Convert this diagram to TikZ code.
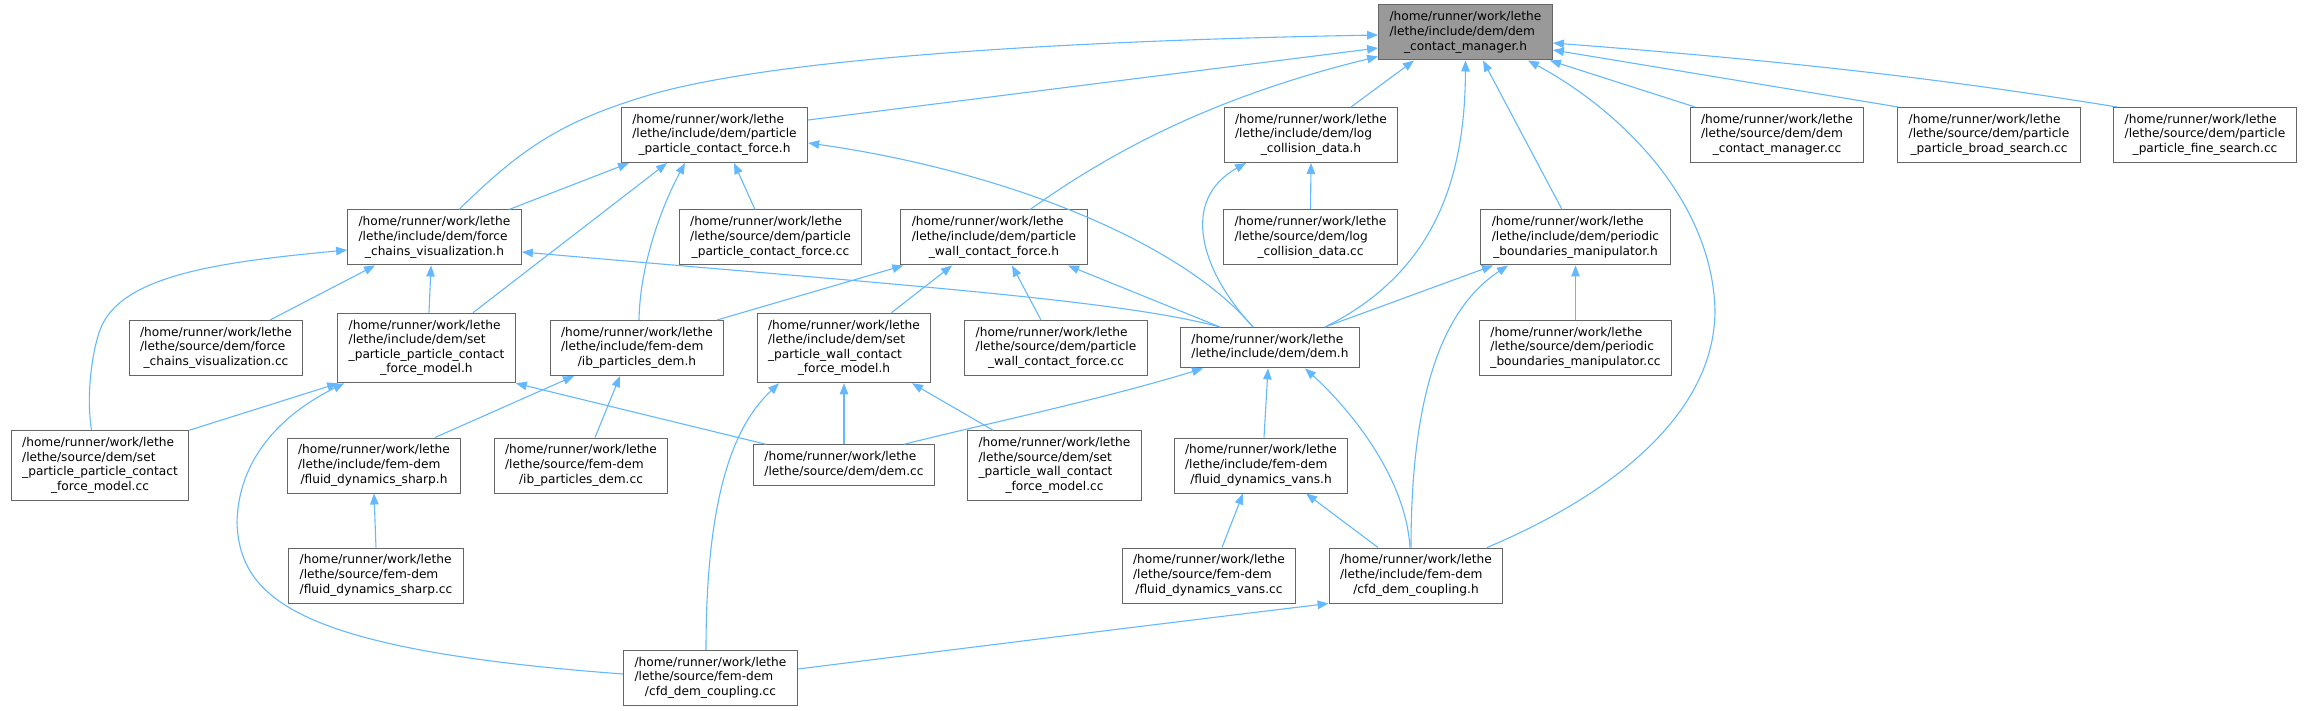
\documentclass[tikz,border=0pt]{standalone}
\usepackage{fontspec}
\setmainfont{DejaVu Sans}
\usetikzlibrary{arrows.meta,calc}
\definecolor{edgec}{HTML}{63B8FF}
\definecolor{nodeb}{HTML}{666666}
\definecolor{rootf}{HTML}{999999}
\newcommand\dlab[2]{\begin{tabular}{@{}l@{}}#1\\\multicolumn{1}{@{}c@{}}{#2}\end{tabular}}
\begin{document}
\begin{tikzpicture}[x=1pt,y=-1pt,
  box/.style={draw=nodeb, fill=white, line width=1pt, inner xsep=11pt, inner ysep=5.6pt,
    font=\fontsize{12.17}{14.6}\selectfont, text=black},
  rootbox/.style={box, fill=rootf},
  dep/.style={draw=edgec, line width=1.1pt, {Triangle[length=11pt,width=8.5pt]}-}]
\path[use as bounding box] (0,0) rectangle (2307,711);
% nodes
\node[rootbox] (root) at (1465.5,32.5) {\dlab{/home/runner/work/lethe\\/lethe/include/dem/dem}{\_contact\_manager.h}};
\node[box] (ppcfh) at (714.5,135) {\dlab{/home/runner/work/lethe\\/lethe/include/dem/particle}{\_particle\_contact\_force.h}};
\node[box] (logh) at (1311,135) {\dlab{/home/runner/work/lethe\\/lethe/include/dem/log}{\_collision\_data.h}};
\node[box] (dcmcc) at (1777,135) {\dlab{/home/runner/work/lethe\\/lethe/source/dem/dem}{\_contact\_manager.cc}};
\node[box] (broadcc) at (1989,135) {\dlab{/home/runner/work/lethe\\/lethe/source/dem/particle}{\_particle\_broad\_search.cc}};
\node[box] (finecc) at (2205,135) {\dlab{/home/runner/work/lethe\\/lethe/source/dem/particle}{\_particle\_fine\_search.cc}};
\node[box] (fch) at (434.5,237.5) {\dlab{/home/runner/work/lethe\\/lethe/include/dem/force}{\_chains\_visualization.h}};
\node[box] (ppcfcc) at (770.5,237.5) {\dlab{/home/runner/work/lethe\\/lethe/source/dem/particle}{\_particle\_contact\_force.cc}};
\node[box] (pwcfh) at (994,237.5) {\dlab{/home/runner/work/lethe\\/lethe/include/dem/particle}{\_wall\_contact\_force.h}};
\node[box] (logcc) at (1310.5,237.5) {\dlab{/home/runner/work/lethe\\/lethe/source/dem/log}{\_collision\_data.cc}};
\node[box] (perh) at (1575.5,237.5) {\dlab{/home/runner/work/lethe\\/lethe/include/dem/periodic}{\_boundaries\_manipulator.h}};
\node[box] (fccc) at (216,348) {\dlab{/home/runner/work/lethe\\/lethe/source/dem/force}{\_chains\_visualization.cc}};
\node[box] (spph) at (426.5,348) {\dlab{/home/runner/work/lethe\\/lethe/include/dem/set\\\_particle\_particle\_contact}{\_force\_model.h}};
\node[box] (ibh) at (637,348) {\dlab{/home/runner/work/lethe\\/lethe/include/fem-dem}{/ib\_particles\_dem.h}};
\node[box] (spwh) at (844,348) {\dlab{/home/runner/work/lethe\\/lethe/include/dem/set\\\_particle\_wall\_contact}{\_force\_model.h}};
\node[box] (pwcfcc) at (1056,348) {\dlab{/home/runner/work/lethe\\/lethe/source/dem/particle}{\_wall\_contact\_force.cc}};
\node[box] (demh) at (1270,347.7) {\dlab{/home/runner/work/lethe}{/lethe/include/dem/dem.h}};
\node[box] (percc) at (1575.5,348) {\dlab{/home/runner/work/lethe\\/lethe/source/dem/periodic}{\_boundaries\_manipulator.cc}};
\node[box] (sppcc) at (100,465.5) {\dlab{/home/runner/work/lethe\\/lethe/source/dem/set\\\_particle\_particle\_contact}{\_force\_model.cc}};
\node[box] (sharph) at (374,465.5) {\dlab{/home/runner/work/lethe\\/lethe/include/fem-dem}{/fluid\_dynamics\_sharp.h}};
\node[box] (ibcc) at (581,465.5) {\dlab{/home/runner/work/lethe\\/lethe/source/fem-dem}{/ib\_particles\_dem.cc}};
\node[box] (demcc) at (844,465) {\dlab{/home/runner/work/lethe}{/lethe/source/dem/dem.cc}};
\node[box] (spwcc) at (1054.5,465.5) {\dlab{/home/runner/work/lethe\\/lethe/source/dem/set\\\_particle\_wall\_contact}{\_force\_model.cc}};
\node[box] (vansh) at (1261,465.5) {\dlab{/home/runner/work/lethe\\/lethe/include/fem-dem}{/fluid\_dynamics\_vans.h}};
\node[box] (sharpcc) at (376,575.5) {\dlab{/home/runner/work/lethe\\/lethe/source/fem-dem}{/fluid\_dynamics\_sharp.cc}};
\node[box] (vanscc) at (1209,575.5) {\dlab{/home/runner/work/lethe\\/lethe/source/fem-dem}{/fluid\_dynamics\_vans.cc}};
\node[box] (cfdh) at (1416,575.5) {\dlab{/home/runner/work/lethe\\/lethe/include/fem-dem}{/cfd\_dem\_coupling.h}};
\node[box] (cfdcc) at (710.5,678) {\dlab{/home/runner/work/lethe\\/lethe/source/fem-dem}{/cfd\_dem\_coupling.cc}};
% edges into root
\draw[dep] ($(root.west)+(0,2.5)$) .. controls (1100,40) and (800,55) .. (660,92) .. controls (560,120) and (520,150) .. ($(fch.north)+(24.5,0)$);
\draw[dep] ($(root.west)+(0,15.5)$) -- ($(ppcfh.east)+(0,-15)$);
\draw[dep] ($(root.west)+(0,24)$) .. controls (1200,100) and (1100,160) .. ($(pwcfh.north)+(36,0)$);
\draw[dep] ($(root.south)+(-51.5,0)$) -- ($(logh.north)+(40,0)$);
\draw[dep] (root.south) .. controls (1465,170) and (1440,270) .. ($(demh.north)+(55,0)$);
\draw[dep] ($(root.south)+(17.5,0)$) -- ($(perh.north)+(-13.5,0)$);
\draw[dep] ($(root.south)+(62.5,0)$) .. controls (1620,110) and (1712,200) .. (1715,310) .. controls (1715,420) and (1600,500) .. ($(cfdh.north)+(71,0)$);
\draw[dep] ($(root.south east)+(-3,0)$) -- ($(dcmcc.north)+(-82,0)$);
\draw[dep] ($(root.east)+(0,17.5)$) -- ($(broadcc.north west)+(1,0)$);
\draw[dep] ($(root.east)+(0,10.5)$) .. controls (1800,62) and (1950,80) .. ($(finecc.north west)+(4,0)$);
% particle_particle_contact_force.h
\draw[dep] ($(ppcfh.south)+(-85.5,0)$) -- ($(fch.north)+(74.5,0)$);
\draw[dep] ($(ppcfh.south)+(-47.5,0)$) -- ($(spph.north)+(46.5,0)$);
\draw[dep] ($(ppcfh.south)+(-29.5,0)$) .. controls (665,200) and (640,260) .. ($(ibh.north)+(2,0)$);
\draw[dep] ($(ppcfh.south)+(19.5,0)$) -- ($(ppcfcc.north)+(-15.5,0)$);
\draw[dep] ($(ppcfh.east)+(0,8)$) .. controls (1000,170) and (1180,240) .. ($(demh.north)+(-17,0)$);
% log_collision_data.h
\draw[dep] (logh.south) -- (logcc.north);
\draw[dep] ($(logh.south)+(-65,0)$) .. controls (1180,200) and (1200,270) .. ($(demh.north)+(-17,0)$);
% force_chains_visualization.h
\draw[dep] ($(fch.west)+(0,12.5)$) .. controls (220,262) and (120,275) .. (100,330) .. controls (92,352) and (86,395) .. ($(sppcc.north)+(-8.5,0)$);
\draw[dep] ($(fch.south)+(-59.5,0)$) -- ($(fccc.north)+(54,0)$);
\draw[dep] ($(fch.south)+(-3.5,0)$) -- ($(spph.north)+(2.5,0)$);
\draw[dep] ($(fch.east)+(0,14.5)$) .. controls (900,285) and (1120,300) .. ($(demh.north)+(-50,0)$);
% particle_wall_contact_force.h
\draw[dep] ($(pwcfh.south west)+(3,0)$) -- ($(ibh.north)+(80,0)$);
\draw[dep] ($(pwcfh.south)+(-42,0)$) -- ($(spwh.north)+(47.5,0)$);
\draw[dep] ($(pwcfh.south)+(18,0)$) -- ($(pwcfcc.north)+(-15,0)$);
\draw[dep] ($(pwcfh.south)+(74,0)$) -- ($(demh.north)+(-50,0)$);
% periodic_boundaries_manipulator.h
\draw[dep] ($(perh.south)+(-82.5,0)$) -- ($(demh.north)+(55,0)$);
\draw[dep] (perh.south) -- (percc.north);
\draw[dep] ($(perh.south)+(-67.5,0)$) .. controls (1440,310) and (1411,400) .. ($(cfdh.north)+(-5,0)$);
% set_particle_particle_contact_force_model.h
\draw[dep] ($(spph.south west)+(1,0)$) -- (sppcc.north east);
\draw[dep] ($(spph.south west)+(7,0)$) .. controls (280,415) and (238,460) .. (237,523) .. controls (240,600) and (300,650) .. ($(cfdcc.west)+(0,-4)$);
\draw[dep] (spph.south east) -- ($(demcc.north)+(-78,0)$);
% ib_particles_dem.h
\draw[dep] ($(ibh.south)+(-63,0)$) -- ($(sharph.north)+(61,0)$);
\draw[dep] ($(ibh.south)+(-17,0)$) -- ($(ibcc.north)+(14,0)$);
% set_particle_wall_contact_force_model.h
\draw[dep] ($(spwh.south)+(-65,0)$) .. controls (740,420) and (706,480) .. ($(cfdcc.north)+(-4.5,0)$);
\draw[dep] (spwh.south) -- (demcc.north);
\draw[dep] ($(spwh.south)+(68,0)$) -- ($(spwcc.north)+(-61.5,0)$);
% dem.h
\draw[dep] ($(demh.south)+(-67,0)$) .. controls (1100,400) and (980,425) .. ($(demcc.north)+(60,0)$);
\draw[dep] ($(demh.south)+(-2,0)$) -- ($(vansh.north)+(3,0)$);
\draw[dep] ($(demh.south)+(35,0)$) .. controls (1340,400) and (1405,470) .. ($(cfdh.north)+(-6,0)$);
% others
\draw[dep] (sharph.south) -- (sharpcc.north);
\draw[dep] ($(vansh.south)+(-18,0)$) -- ($(vanscc.north)+(13,0)$);
\draw[dep] ($(vansh.south)+(45,0)$) -- ($(cfdh.north)+(-38,0)$);
\draw[dep] (cfdh.south west) .. controls (1150,625) and (950,650) .. ($(cfdcc.east)+(0,-9)$);
\end{tikzpicture}
\end{document}
